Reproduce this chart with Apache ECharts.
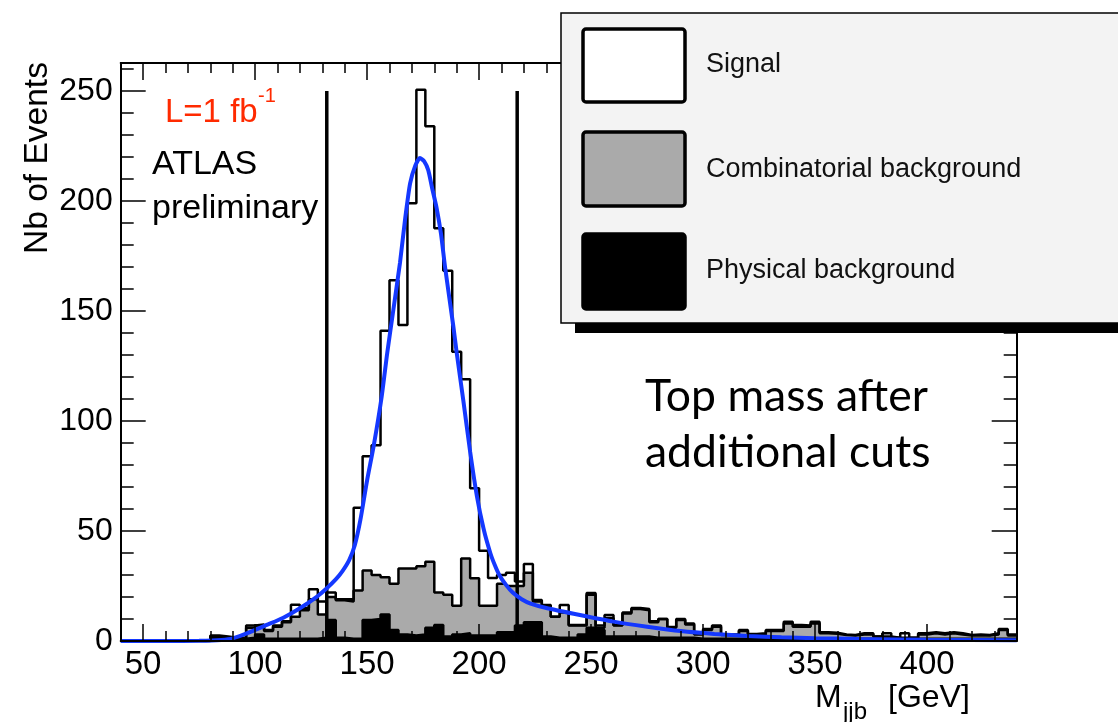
<!DOCTYPE html>
<html><head><meta charset="utf-8">
<script src="https://cdn.jsdelivr.net/npm/echarts@6/dist/echarts.min.js"></script>
<style>html,body{margin:0;padding:0;background:#fff}#c{width:1118px;height:722px}</style>
</head><body><div id="c"></div>
<script>
// ---- data (4 GeV bins from 40 to 440 GeV) ----
const binLow = 40;
const binWidth = 4;
const physical = [
 0,0,0,0,0,0,0,0,0,0,
 1.5,1.5,1,1,1.5,3,1,1,1,1,
 1,1,1.5,9.5,1.5,1,1,9.5,10,12,
 5,3,2.5,3,6,7.3,2,3,3.5,2.5,
 2.5,2.5,4,4,7,8.5,8.5,2,1.5,1.5,
 1.5,3,6,5,2,2,2,2,2,1.5,
 1.5,1.5,1.5,1.5,1,1,1,1,1,1,
 1,1,1,1,1,1,1,1,1,1,
 1,1,1,1,1,1,1,1,1,1,
 1,1,1,1,1,1,1,1,1,1];
const combinatorial = [
 0,0,0,0,0,0,0,0,0,0,
 0.5,0,0,0,4.5,4,3.5,5.5,7.5,10,
 13,18,10.5,10.5,17,17,22,22.5,20,17,
 21,30,30.5,31,30,14.7,19,13,34,26,
 13.5,13.5,22,21,18,22.5,9.5,14,9.5,11.5,
 5.5,4,15,1,8.5,5,10.5,12.5,12,7,
 8.5,4.5,8,6,2,4,5.5,1.7,1.7,3.5,
 2,2,3.5,3.5,7,5.5,5.5,7,2.5,2.3,
 1.7,1.5,2,2,1,1,0.5,0.5,0.5,2,
 2.5,2,2.5,2,1.5,1.5,1.5,2,4,1.5];
const signal = [
 0,0,0,0,0,0,0,0,0,0,
 0.5,0.5,0.5,0.5,1,0.5,0.5,0.5,0.5,5.5,
 1,4.5,6,2,0.5,1,37.6,52,59,112,
 138,110.6,166,216.5,198,165.6,147.3,115.5,81.5,40.9,
 25,12.6,4,6,2,4,0.6,0.4,0,3.4,
 0.3,0.3,0.8,1,1.3,0.3,0.5,0.5,0.5,0.5,
 0,0.4,0.5,0.5,0.6,0.5,0.5,0.3,0.3,0.5,
 0.2,0.5,0.5,0.5,0.8,0.8,0.5,0.8,0.5,0.5,
 0.3,0.2,0.5,0.5,0,1.5,0,2,0,0.5,
 0.5,0.5,0.5,0.5,0.2,0.5,0.2,0.5,0.5,0.5];
// fitted curve (blue)
const fitMass  = [40,60,75,85,90,97.7,105.2,112.6,120,127.5,132,136,139,142,144.5,147,150,153,156.5,159,161.5,164.7,167,169.2,171.5,173.6,175.5,177.3,179,181,183,184.8,188.5,190,193,196,199,202,205,207,209,212,215,219,223,230,245,260,275,290,305,320,335,350,370,400,440];
const fitValue = [0,0,0.1,0.5,1.2,4,7.3,10.6,14.9,20.1,24,28,31.8,36.8,43.5,55,73,89,111,131,149,172,192,208,216,219.5,218,214,206,197,185,170,143,131,109,86,66,51,40,34.5,30,25.5,22,19,17,15,11.8,8.8,6.5,4.5,3.2,2.3,1.7,1.3,0.9,0.6,0.3];
// selection cut lines
const cutMass = [132, 217];
const cutHeight = 250;
// tick labels
const xTickLabels = [50,100,150,200,250,300,350,400];
const yTickLabels = [0,50,100,150,200,250];

// ---- derived ----
const X0 = 40, X1 = 440, Y0 = 0, Y1 = 262.7;
const xMinor = [], yMinor = [];
for (let v = 40; v <= 440; v += 10) if (v % 50) xMinor.push(v);
for (let v = 10; v <= 260; v += 10) if (v % 50) yMinor.push(v);

const grayCum = physical.map((v, i) => v + combinatorial[i]);
const totalCum = grayCum.map((v, i) => v + signal[i]);
function stepData(vals) {
  const d = vals.map((v, i) => [binLow + i * binWidth, v]);
  d.push([binLow + vals.length * binWidth, vals[vals.length - 1]]);
  return d;
}

const FONT = '"Liberation Sans", Arial, Helvetica, sans-serif';
function xAx(pos, vals, len, labels, line) {
  return {
    type: 'value', min: X0, max: X1, position: pos, z: 5,
    axisLine: { show: line, onZero: false, lineStyle: { color: '#000', width: 2 } },
    axisTick: { show: true, inside: true, length: len, customValues: vals, lineStyle: { color: '#000', width: 1.5 } },
    axisLabel: { show: labels, customValues: vals, margin: 7, color: '#000', fontSize: 33, fontFamily: FONT },
    splitLine: { show: false }
  };
}
function yAx(pos, vals, len, labels, line) {
  return {
    type: 'value', min: Y0, max: Y1, position: pos, z: 5,
    axisLine: { show: line, onZero: false, lineStyle: { color: '#000', width: 2 } },
    axisTick: { show: true, inside: true, length: len, customValues: vals, lineStyle: { color: '#000', width: 1.5 } },
    axisLabel: { show: labels, customValues: vals, margin: 8, color: '#000', fontSize: 32, fontFamily: FONT },
    splitLine: { show: false }
  };
}

function histSeries(name, vals, fill) {
  return {
    name, type: 'line', step: 'end', data: stepData(vals), symbol: 'none',
    xAxisIndex: 0, yAxisIndex: 0,
    lineStyle: { color: '#000', width: 2.5 },
    areaStyle: { color: fill, opacity: 1, origin: 'start' },
    z: 2
  };
}

const series = [
  histSeries('Signal', totalCum, '#ffffff'),
  histSeries('Combinatorial background', grayCum, '#aaaaaa'),
  histSeries('Physical background', physical, '#000000')
];
cutMass.forEach(m => series.push({
  type: 'line', data: [[m, 0], [m, cutHeight]], symbol: 'none',
  xAxisIndex: 0, yAxisIndex: 0, lineStyle: { color: '#000', width: 3.5 }, z: 3
}));
series.push({
  type: 'line', data: fitMass.map((m, i) => [m, fitValue[i]]), symbol: 'none',
  xAxisIndex: 0, yAxisIndex: 0, smooth: 0.2,
  lineStyle: { color: '#1438ff', width: 4 }, z: 4
});

const legendRows = [
  { label: 'Signal', fill: '#ffffff', y: 29, h: 73, ty: 65 },
  { label: 'Combinatorial background', fill: '#aaaaaa', y: 132, h: 74, ty: 170 },
  { label: 'Physical background', fill: '#000000', y: 234, h: 75, ty: 271 }
];
const graphic = [
  { type: 'rect', z: 100, shape: { x: 575, y: 25, width: 700, height: 308 }, style: { fill: '#000' } },
  { type: 'rect', z: 101, shape: { x: 561, y: 13, width: 700, height: 310 }, style: { fill: '#f3f3f3', stroke: '#000', lineWidth: 1.5 } }
];
legendRows.forEach(r => {
  graphic.push({ type: 'rect', z: 102, shape: { x: 583, y: r.y, width: 102, height: r.h, r: 3 }, style: { fill: r.fill, stroke: '#000', lineWidth: 3.5 } });
  graphic.push({ type: 'text', z: 102, x: 706, y: r.ty, style: { text: r.label, fontSize: 27, fontFamily: FONT, fill: '#111', align: 'left', verticalAlign: 'middle' } });
});
graphic.push(
  { type: 'text', z: 50, x: 165, y: 113, style: { text: 'L=1 fb', fontSize: 33, fontFamily: FONT, fill: '#ff2a00', align: 'left', verticalAlign: 'middle' } },
  { type: 'text', z: 50, x: 258, y: 96, style: { text: '-1', fontSize: 20, fontFamily: FONT, fill: '#ff2a00', align: 'left', verticalAlign: 'middle' } },
  { type: 'text', z: 50, x: 152, y: 165, style: { text: 'ATLAS', fontSize: 34, fontFamily: FONT, fill: '#000', align: 'left', verticalAlign: 'middle' } },
  { type: 'text', z: 50, x: 152, y: 209, style: { text: 'preliminary', fontSize: 34, fontFamily: FONT, fill: '#000', align: 'left', verticalAlign: 'middle' } },
  { type: 'text', z: 50, x: 645, y: 397, style: { text: 'Top mass after', fontSize: 44.5, fontFamily: 'Lato, "Open Sans", sans-serif', fill: '#000', align: 'left', verticalAlign: 'middle' } },
  { type: 'text', z: 50, x: 645, y: 453, style: { text: 'additional cuts', fontSize: 44.5, fontFamily: 'Lato, "Open Sans", sans-serif', fill: '#000', align: 'left', verticalAlign: 'middle' } },
  { type: 'text', z: 50, x: 38, y: 158, rotation: Math.PI / 2, style: { text: 'Nb of Events', fontSize: 33.5, fontFamily: FONT, fill: '#000', align: 'center', verticalAlign: 'middle' } },
  { type: 'text', z: 50, x: 815, y: 698, style: { text: 'M', fontSize: 32, fontFamily: FONT, fill: '#000', align: 'left', verticalAlign: 'middle' } },
  { type: 'text', z: 50, x: 843, y: 712, style: { text: 'jjb', fontSize: 24, fontFamily: FONT, fill: '#000', align: 'left', verticalAlign: 'middle' } },
  { type: 'text', z: 50, x: 888, y: 698, style: { text: '[GeV]', fontSize: 32, fontFamily: FONT, fill: '#000', align: 'left', verticalAlign: 'middle' } }
);

const chart = echarts.init(document.getElementById('c'), null, { renderer: 'canvas' });
chart.setOption({
  animation: false,
  backgroundColor: '#ffffff',
  grid: { left: 120.7, right: 101.3, top: 63, bottom: 81 },
  xAxis: [
    xAx('bottom', xTickLabels, 17, true, true),
    xAx('bottom', xMinor, 10, false, false),
    xAx('top', xTickLabels, 17, false, true),
    xAx('top', xMinor, 10, false, false)
  ],
  yAxis: [
    yAx('left', yTickLabels, 25, true, true),
    yAx('left', yMinor, 13, false, false),
    yAx('right', yTickLabels, 25, false, true),
    yAx('right', yMinor, 13, false, false)
  ],
  series,
  graphic
});
</script>
</body></html>
